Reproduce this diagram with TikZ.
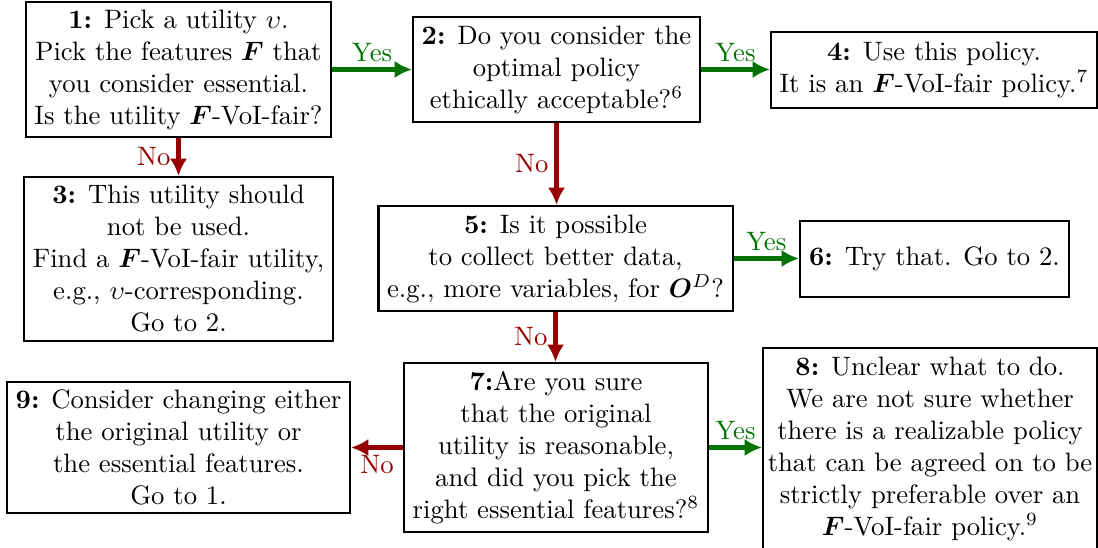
\documentclass[tikz,border=0pt]{standalone}
\usepackage{amsmath,bm}
\usetikzlibrary{arrows.meta}
\definecolor{yesgreen}{RGB}{0,115,0}
\definecolor{nored}{RGB}{150,0,0}
\begin{document}
\begin{tikzpicture}[x=0.375pt,y=-0.375pt,
  box/.style 2 args={draw,thick,align=center,inner sep=1pt,minimum width=#1,minimum height=#2},
  yes/.style={draw=yesgreen,line width=2pt,-{Latex[length=6.5pt,width=6.5pt]}},
  no/.style={draw=nored,line width=2pt,-{Latex[length=6.5pt,width=6.5pt]}},
  yl/.style={text=yesgreen,inner sep=2pt},
  nl/.style={text=nored,inner sep=2pt}]
\useasboundingbox (0,0) rectangle (1098,547);
\node[box={114.4pt}{50.6pt}] (n1) at (178.5,69.5) {\textbf{1:} Pick a utility $\upsilon$.\\ Pick the features $\bm{F}$ that\\ you consider essential.\\ Is the utility $\bm{F}$-VoI-fair?};
\node[box={107.6pt}{39.4pt}] (n2) at (556.5,69.5) {\textbf{2:} Do you consider the\\ optimal policy\\ ethically acceptable?$^6$};
\node[box={122.3pt}{28.5pt}] (n4) at (934,70) {\textbf{4:} Use this policy.\\ It is an $\bm{F}$-VoI-fair policy.$^7$};
\node[box={115.9pt}{61.5pt}] (n3) at (178.5,259) {\textbf{3:} This utility should\\ not be used.\\ Find a $\bm{F}$-VoI-fair utility,\\ e.g., $\upsilon$-corresponding.\\ Go to 2.};
\node[box={132.8pt}{39.4pt}] (n5) at (555.5,258.5) {\textbf{5:} Is it possible\\ to collect better data,\\ e.g., more variables, for $\bm{O}^D$?};
\node[box={100.9pt}{28.5pt}] (n6) at (934.5,259) {\textbf{6:} Try that. Go to 2.};
\node[box={114pt}{63.4pt}] (n7) at (556,447.5) {\textbf{7:}Are you sure\\ that the original\\ utility is reasonable,\\ and did you pick the\\ right essential features?$^8$};
\node[box={128.6pt}{49.1pt}] (n9) at (178.5,447.5) {\textbf{9:} Consider changing either\\ the original utility or\\ the essential features.\\ Go to 1.};
\node[box={125.3pt}{76pt}] (n8) at (930,449) {\textbf{8:} Unclear what to do.\\ We are not sure whether\\ there is a realizable policy\\ that can be agreed on to be\\ strictly preferable over an\\ $\bm{F}$-VoI-fair policy.$^9$};
\draw[yes] (n1.east) -- (n1.east -| n2.west) node[midway,above,yl] {Yes};
\draw[yes] (n2.east) -- (n2.east -| n4.west) node[midway,above,yl] {Yes};
\draw[no] (n1.south) -- (n3.north) node[midway,left,nl] {No};
\draw[no] (n2.south) -- (n2.south |- n5.north) node[midway,left,nl] {No};
\draw[yes] (n5.east) -- (n5.east -| n6.west) node[midway,above,yl] {Yes};
\draw[no] (n5.south) -- (n5.south |- n7.north) node[midway,left,nl] {No};
\draw[no] (n7.west) -- (n7.west -| n9.east) node[midway,below,nl] {No};
\draw[yes] (n7.east) -- (n7.east -| n8.west) node[midway,above,yl] {Yes};
\end{tikzpicture}
\end{document}
